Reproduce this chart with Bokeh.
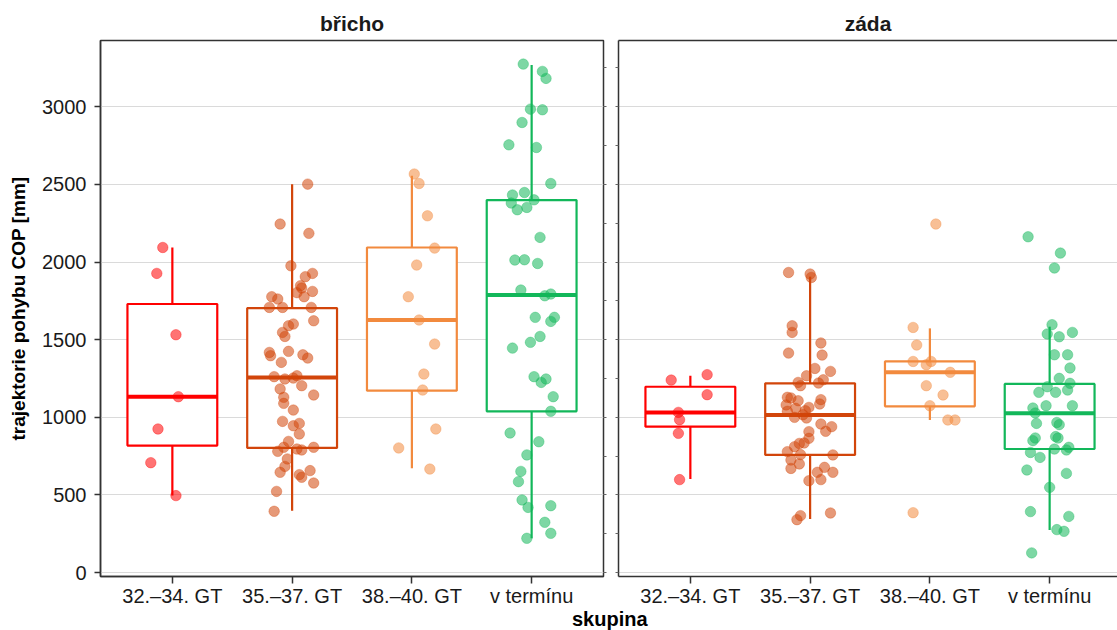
from bokeh.plotting import figure
from bokeh.models import (ColumnDataSource, Range1d, LinearAxis, FixedTicker,
                          SingleIntervalTicker, Div, CustomJSTickFormatter)
from bokeh.layouts import row, column
from bokeh.embed import file_html
from bokeh.resources import INLINE

# ---------------- data ----------------
categories = ["32.–34. GT", "35.–37. GT", "38.–40. GT", "v termínu"]
colors = ["#FF0000", "#D2450A", "#F28A3E", "#12B75A"]
panels = ["břicho", "záda"]

# box statistics
bricho_lo = [496, 399, 672, 221]
bricho_q1 = [818, 803, 1172, 1039]
bricho_med = [1133, 1257, 1627, 1788]
bricho_q3 = [1730, 1704, 2094, 2399]
bricho_hi = [2094, 2502, 2556, 3270]

zada_lo = [603, 346, 983, 275]
zada_q1 = [940, 758, 1071, 796]
zada_med = [1032, 1015, 1290, 1026]
zada_q3 = [1197, 1219, 1360, 1215]
zada_hi = [1268, 1906, 1573, 1584]

# individual observations (value, horizontal jitter in category units)
bricho_g1 = [2094, 1927, 1532, 1133, 925, 708, 496]
bricho_g1_j = [-0.08, -0.13, 0.03, 0.05, -0.12, -0.18, 0.03]
bricho_g2 = [2502, 2245, 2185, 1976, 1927, 1906, 1848, 1833, 1803, 1811, 1777, 1762,
             1777, 1708, 1708, 1708, 1622, 1601, 1590, 1547, 1521, 1418, 1397, 1425,
             1403, 1382, 1354, 1262, 1247, 1253, 1268, 1204, 1183, 1129, 1144, 1090,
             1047, 974, 961, 946, 893, 845, 807, 781, 807, 796, 790, 732, 684, 646,
             657, 631, 614, 577, 523, 395]
bricho_g2_j = [0.13, -0.10, 0.14, -0.01, 0.17, 0.11, 0.07, 0.08, 0.04, 0.17, -0.17, -0.12,
               0.10, -0.19, -0.08, 0.16, 0.18, 0.01, -0.03, -0.08, -0.06, -0.19, -0.18, -0.03,
               0.09, 0.13, -0.09, -0.15, -0.06, 0.01, 0.04, 0.08, -0.10, -0.07, 0.18, -0.07,
               0.01, -0.08, 0.06, 0.01, 0.06, -0.03, -0.07, -0.12, 0.18, 0.04, 0.08, -0.04,
               -0.06, -0.10, 0.15, 0.06, 0.08, 0.18, -0.13, -0.15]
bricho_g3 = [2567, 2506, 2298, 2090, 1981, 1777, 1627, 1472, 1279, 1176, 925, 803, 667]
bricho_g3_j = [0.02, 0.06, 0.13, 0.19, 0.04, -0.03, 0.06, 0.19, 0.10, 0.09, 0.20, -0.11, 0.15]
bricho_g4 = [3275, 3228, 3183, 2985, 2981, 2899, 2755, 2738, 2506, 2432, 2448, 2401,
             2380, 2337, 2352, 2159, 2013, 2015, 1991, 1820, 1783, 1794, 1644, 1644,
             1618, 1521, 1483, 1446, 1262, 1247, 1225, 1133, 1039, 899, 843, 758,
             652, 586, 468, 420, 431, 324, 253, 221]
bricho_g4_j = [-0.07, 0.09, 0.12, -0.01, 0.09, -0.08, -0.19, 0.04, 0.16, -0.16, -0.06, 0.02,
               -0.17, -0.12, -0.04, 0.07, -0.14, -0.06, 0.05, -0.09, 0.11, 0.16, 0.03, 0.19,
               0.16, 0.07, -0.01, -0.16, 0.02, 0.12, 0.08, 0.18, 0.16, -0.18, 0.06, -0.04,
               -0.09, -0.11, -0.08, -0.03, 0.16, 0.11, 0.16, -0.04]

zada_g1 = [1240, 1275, 1146, 1032, 985, 897, 599]
zada_g1_j = [-0.16, 0.14, 0.14, -0.10, -0.09, -0.10, -0.09]
zada_g2 = [1933, 1923, 1901, 1590, 1547, 1479, 1414, 1401, 1315, 1296, 1268, 1242,
           1225, 1204, 1221, 1129, 1125, 1107, 1114, 1080, 1086, 1064, 1058, 1043,
           1039, 1000, 996, 1017, 957, 940, 908, 910, 865, 835, 832, 811, 779, 760,
           758, 725, 700, 671, 678, 646, 646, 599, 592, 367, 341, 384]
zada_g2_j = [-0.18, 0.00, 0.01, -0.15, -0.15, 0.09, -0.18, 0.10, 0.04, 0.17, -0.03, 0.11,
             -0.10, -0.08, 0.07, -0.19, -0.16, -0.10, 0.09, -0.20, 0.08, -0.01, -0.12, -0.04,
             -0.19, -0.13, -0.03, -0.06, 0.09, 0.18, -0.01, 0.13, -0.01, -0.05, -0.09, -0.13,
             -0.19, -0.08, 0.19, -0.16, -0.09, -0.16, 0.12, 0.06, 0.19, 0.09, -0.01, -0.08,
             -0.11, 0.17]
zada_g3 = [2245, 1579, 1466, 1360, 1360, 1339, 1290, 1204, 1144, 1075, 983, 983, 386]
zada_g3_j = [0.05, -0.14, -0.11, -0.14, 0.01, -0.03, 0.17, -0.03, 0.11, 0.00, 0.15, 0.21, -0.14]
zada_g4 = [2163, 2058, 1962, 1597, 1537, 1519, 1547, 1403, 1403, 1318, 1251, 1219,
           1197, 1161, 1161, 1176, 1075, 1060, 1075, 1028, 961, 967, 953, 867, 850,
           876, 867, 796, 807, 790, 774, 742, 661, 639, 549, 393, 362, 277, 266, 127]
zada_g4_j = [-0.18, 0.09, 0.04, 0.02, -0.02, 0.08, 0.19, 0.04, 0.15, 0.17, 0.08, 0.17,
             -0.02, -0.09, 0.05, 0.15, -0.03, -0.14, 0.19, -0.12, -0.11, 0.06, 0.08, -0.12,
             -0.14, 0.05, 0.07, 0.04, 0.16, 0.14, -0.16, -0.08, -0.19, 0.14, 0.00, -0.16,
             0.16, 0.06, 0.12, -0.15]

y_ticks = [0, 500, 1000, 1500, 2000, 2500, 3000]
y_title = "trajektorie pohybu COP [mm]"
x_title = "skupina"

# ---------------- styling ----------------
FONT = "Liberation Sans"
DARK = "#333333"
GRID = "#DADADA"
BOX_W = 0.75
Y0, Y1 = -25, 3427
PX_PER_UNIT = 503 / 4.2
EMPTY = CustomJSTickFormatter(code="return ''")


def base_fig(title, frame_w, x_end, border_left, border_right, title_offset=0):
    p = figure(frame_width=frame_w, frame_height=536,
               x_range=Range1d(0.4, x_end), y_range=Range1d(Y0, Y1),
               output_backend="svg", toolbar_location=None,
               min_border_left=border_left, min_border_right=border_right,
               min_border_top=40, min_border_bottom=33,
               background_fill_color="white", border_fill_color="white")
    p.title.text = title
    p.title.align = "center"
    p.title.text_font = FONT
    p.title.text_font_size = "21px"
    p.title.text_font_style = "bold"
    p.title.text_color = "#1A1A1A"
    p.title.standoff = 11
    p.title.offset = title_offset
    p.xgrid.visible = False
    p.ygrid.ticker = FixedTicker(ticks=y_ticks)
    p.ygrid.grid_line_color = GRID
    p.ygrid.grid_line_width = 1
    # categorical x axis
    xa = p.xaxis[0]
    xa.ticker = FixedTicker(ticks=[1, 2, 3, 4])
    xa.major_label_overrides = {i + 1: c for i, c in enumerate(categories)}
    xa.major_label_text_font = FONT
    xa.major_label_text_font_size = "20px"
    xa.major_label_text_color = "#1A1A1A"
    xa.major_label_standoff = 1
    xa.major_tick_out = 7
    xa.major_tick_in = 0
    xa.major_tick_line_color = DARK
    xa.major_tick_line_width = 1.5
    xa.minor_tick_line_color = None
    xa.axis_line_color = DARK
    xa.axis_line_width = 1.5
    return p


def draw_groups(p, lo, q1, med, q3, hi, groups):
    idx = [1, 2, 3, 4]
    src = ColumnDataSource(dict(
        x=idx, lo=lo, q1=q1, med=med, q3=q3, hi=hi, color=colors,
        left=[i - BOX_W / 2 for i in idx], right=[i + BOX_W / 2 for i in idx]))
    p.segment(x0="x", x1="x", y0="q3", y1="hi", line_color="color", line_width=2.2, source=src)
    p.segment(x0="x", x1="x", y0="q1", y1="lo", line_color="color", line_width=2.2, source=src)
    p.quad(left="left", right="right", bottom="q1", top="q3", fill_color="white",
           line_color="color", line_width=2.2, source=src)
    p.segment(x0="left", x1="right", y0="med", y1="med", line_color="color",
              line_width=4, source=src)
    for gi, (vals, jit) in enumerate(groups):
        s = ColumnDataSource(dict(x=[gi + 1 + j for j in jit], y=vals))
        p.scatter("x", "y", source=s, size=10.5, fill_color=colors[gi],
                  fill_alpha=0.55, line_color=colors[gi], line_alpha=0.35)


def marks_axis(line_color):
    return LinearAxis(ticker=SingleIntervalTicker(interval=250, num_minor_ticks=0),
                      formatter=EMPTY, major_label_standoff=0,
                      major_tick_out=3, major_tick_in=0, major_tick_line_color="#666666",
                      minor_tick_line_color=None, axis_line_color=line_color,
                      axis_line_width=1.5)


# ---------- left panel ----------
p1 = base_fig(panels[0], 503, 4.6, 100, 8)
p1.outline_line_color = DARK
p1.outline_line_width = 1.5
ya = p1.yaxis[0]
ya.ticker = FixedTicker(ticks=y_ticks)
ya.major_label_text_font = FONT
ya.major_label_text_font_size = "20px"
ya.major_label_text_color = "#1A1A1A"
ya.major_label_standoff = 8
ya.major_tick_out = 6
ya.major_tick_in = 0
ya.major_tick_line_color = DARK
ya.major_tick_line_width = 1.5
ya.minor_tick_line_color = None
ya.axis_line_color = DARK
ya.axis_line_width = 1.5
ya.axis_label = y_title
ya.axis_label_text_font = FONT
ya.axis_label_text_font_size = "19px"
ya.axis_label_text_font_style = "bold"
ya.axis_label_text_color = "#000000"
ya.axis_label_standoff = 10
p1.add_layout(marks_axis(None), "right")
draw_groups(p1, bricho_lo, bricho_q1, bricho_med, bricho_q3, bricho_hi,
            [(bricho_g1, bricho_g1_j), (bricho_g2, bricho_g2_j),
             (bricho_g3, bricho_g3_j), (bricho_g4, bricho_g4_j)])

# ---------- right panel (cut at the window edge) ----------
w2 = 499
p2 = base_fig(panels[1], w2, 0.4 + w2 / PX_PER_UNIT, 7, 0, title_offset=2)
p2.outline_line_color = None
ya2 = p2.yaxis[0]
ya2.ticker = SingleIntervalTicker(interval=250, num_minor_ticks=0)
ya2.formatter = EMPTY
ya2.major_label_standoff = 0
ya2.major_tick_out = 3
ya2.major_tick_in = 0
ya2.major_tick_line_color = "#666666"
ya2.minor_tick_line_color = None
ya2.axis_line_color = DARK
ya2.axis_line_width = 1.5
top_ax = LinearAxis(ticker=FixedTicker(ticks=[]), formatter=EMPTY,
                    major_label_standoff=0, major_tick_out=0, major_tick_in=0,
                    minor_tick_out=0, minor_tick_in=0,
                    axis_line_color=DARK, axis_line_width=1.5)
p2.add_layout(top_ax, "above")
draw_groups(p2, zada_lo, zada_q1, zada_med, zada_q3, zada_hi,
            [(zada_g1, zada_g1_j), (zada_g2, zada_g2_j),
             (zada_g3, zada_g3_j), (zada_g4, zada_g4_j)])

xlab = Div(text=x_title, width=120, height=21, margin=(0, 0, 0, 572),
           styles={"font-family": FONT, "font-size": "20px", "font-weight": "bold",
                   "line-height": "20px", "color": "#000000", "overflow": "visible"})

layout = column(row(p1, p2), xlab)

with open("out.html", "w") as f:
    f.write(file_html(layout, INLINE))
